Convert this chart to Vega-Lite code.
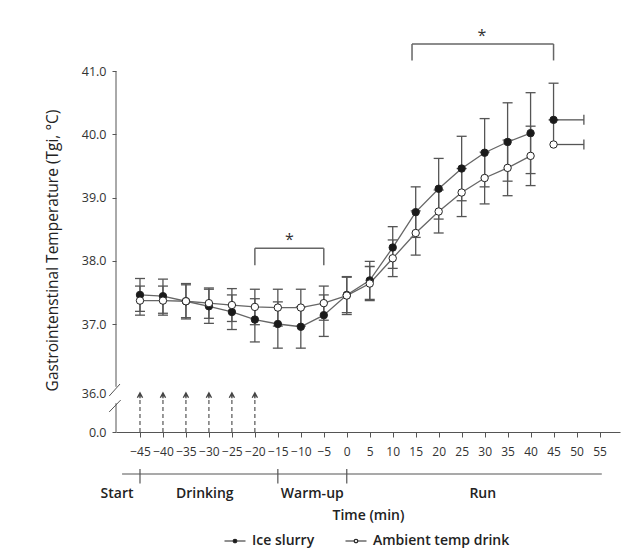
{
  "$schema": "https://vega.github.io/schema/vega-lite/v6.json",
  "width": 504,
  "height": 412,
  "autosize": {"type": "none"},
  "padding": {"left": 116, "top": 20, "right": 15, "bottom": 128},
  "background": "white",
  "config": {
    "view": {"stroke": null},
    "font": "Open Sans",
    "axis": {"labelFont": "Open Sans", "titleFont": "Open Sans", "labelColor": "#333", "titleColor": "#222", "grid": false},
    "axisX": {"labelOverlap": false, "labelSeparation": -20, "labelFlush": false, "labelBound": false, "labelFontSize": 12},
    "axisY": {"labelFontSize": 12.5}
  },
  "datasets": {
    "gi": [
      {"t": -45, "series": "Ice slurry", "mean": 37.46, "lo": 37.20, "hi": 37.72, "xhi": null},
      {"t": -40, "series": "Ice slurry", "mean": 37.44, "lo": 37.17, "hi": 37.71, "xhi": null},
      {"t": -35, "series": "Ice slurry", "mean": 37.36, "lo": 37.08, "hi": 37.64, "xhi": null},
      {"t": -30, "series": "Ice slurry", "mean": 37.28, "lo": 37.01, "hi": 37.55, "xhi": null},
      {"t": -25, "series": "Ice slurry", "mean": 37.19, "lo": 36.92, "hi": 37.46, "xhi": null},
      {"t": -20, "series": "Ice slurry", "mean": 37.07, "lo": 36.74, "hi": 37.40, "xhi": null},
      {"t": -15, "series": "Ice slurry", "mean": 37.00, "lo": 36.65, "hi": 37.35, "xhi": null},
      {"t": -10, "series": "Ice slurry", "mean": 36.96, "lo": 36.65, "hi": 37.27, "xhi": null},
      {"t": -5, "series": "Ice slurry", "mean": 37.14, "lo": 36.82, "hi": 37.46, "xhi": null},
      {"t": 0, "series": "Ice slurry", "mean": 37.46, "lo": 37.18, "hi": 37.74, "xhi": null},
      {"t": 5, "series": "Ice slurry", "mean": 37.69, "lo": 37.39, "hi": 37.99, "xhi": null},
      {"t": 10, "series": "Ice slurry", "mean": 38.21, "lo": 37.88, "hi": 38.54, "xhi": null},
      {"t": 15, "series": "Ice slurry", "mean": 38.77, "lo": 38.37, "hi": 39.17, "xhi": null},
      {"t": 20, "series": "Ice slurry", "mean": 39.14, "lo": 38.66, "hi": 39.62, "xhi": null},
      {"t": 25, "series": "Ice slurry", "mean": 39.46, "lo": 38.95, "hi": 39.97, "xhi": null},
      {"t": 30, "series": "Ice slurry", "mean": 39.71, "lo": 39.17, "hi": 40.25, "xhi": null},
      {"t": 35, "series": "Ice slurry", "mean": 39.88, "lo": 39.26, "hi": 40.50, "xhi": null},
      {"t": 40, "series": "Ice slurry", "mean": 40.02, "lo": 39.38, "hi": 40.66, "xhi": null},
      {"t": 45, "series": "Ice slurry", "mean": 40.23, "lo": null, "hi": 40.81, "xhi": 51.6},
      {"t": -45, "series": "Ambient temp drink", "mean": 37.37, "lo": 37.14, "hi": 37.60, "xhi": null},
      {"t": -40, "series": "Ambient temp drink", "mean": 37.37, "lo": 37.14, "hi": 37.60, "xhi": null},
      {"t": -35, "series": "Ambient temp drink", "mean": 37.36, "lo": 37.10, "hi": 37.62, "xhi": null},
      {"t": -30, "series": "Ambient temp drink", "mean": 37.33, "lo": 37.09, "hi": 37.57, "xhi": null},
      {"t": -25, "series": "Ambient temp drink", "mean": 37.30, "lo": 37.04, "hi": 37.56, "xhi": null},
      {"t": -20, "series": "Ambient temp drink", "mean": 37.27, "lo": 36.99, "hi": 37.55, "xhi": null},
      {"t": -15, "series": "Ambient temp drink", "mean": 37.26, "lo": 36.97, "hi": 37.55, "xhi": null},
      {"t": -10, "series": "Ambient temp drink", "mean": 37.26, "lo": 36.97, "hi": 37.55, "xhi": null},
      {"t": -5, "series": "Ambient temp drink", "mean": 37.33, "lo": 37.06, "hi": 37.60, "xhi": null},
      {"t": 0, "series": "Ambient temp drink", "mean": 37.45, "lo": 37.15, "hi": 37.75, "xhi": null},
      {"t": 5, "series": "Ambient temp drink", "mean": 37.64, "lo": 37.37, "hi": 37.91, "xhi": null},
      {"t": 10, "series": "Ambient temp drink", "mean": 38.04, "lo": 37.75, "hi": 38.33, "xhi": null},
      {"t": 15, "series": "Ambient temp drink", "mean": 38.44, "lo": 38.09, "hi": 38.79, "xhi": null},
      {"t": 20, "series": "Ambient temp drink", "mean": 38.78, "lo": 38.44, "hi": 39.12, "xhi": null},
      {"t": 25, "series": "Ambient temp drink", "mean": 39.08, "lo": 38.70, "hi": 39.46, "xhi": null},
      {"t": 30, "series": "Ambient temp drink", "mean": 39.31, "lo": 38.90, "hi": 39.72, "xhi": null},
      {"t": 35, "series": "Ambient temp drink", "mean": 39.47, "lo": 39.03, "hi": 39.91, "xhi": null},
      {"t": 40, "series": "Ambient temp drink", "mean": 39.66, "lo": 39.19, "hi": 40.13, "xhi": null},
      {"t": 45, "series": "Ambient temp drink", "mean": 39.84, "lo": null, "hi": 40.23, "xhi": 51.6}
    ],
    "axisSegments": [{"x": -50.22, "y1": 36.09, "y2": 41}, {"x": -50.22, "y1": 0, "y2": 26.6}],
    "slashes": [{"x1": -51.7, "y1": 33.2, "x2": -49.35, "y2": 36.13}, {"x1": -51.7, "y1": 18.5, "x2": -49.2, "y2": 29.5}],
    "drinks": [{"t": -45, "base": 0, "top": 33, "head": 33.8}, {"t": -40, "base": 0, "top": 33, "head": 33.8}, {"t": -35, "base": 0, "top": 33, "head": 33.8}, {"t": -30, "base": 0, "top": 33, "head": 33.8}, {"t": -25, "base": 0, "top": 33, "head": 33.8}, {"t": -20, "base": 0, "top": 33, "head": 33.8}],
    "brackets": [
      {"x1": -20, "x2": -5, "top": 38.2, "leg": 37.93, "sx": -12.5, "sy": 38.33, "label": "*"},
      {"x1": 14.2, "x2": 45, "top": 41.43, "leg": 41.17, "sx": 29.4, "sy": 41.55, "label": "*"}
    ],
    "timeline": [{"x1": -48.9, "x2": 55.5, "pos": 0}],
    "phaseTicks": [{"t": -45, "a": -0.25, "b": 0.47}, {"t": -15, "a": -0.25, "b": 0.47}, {"t": 0, "a": -0.25, "b": 0.47}],
    "phases": [{"x": -50.0, "pos": 1, "label": "Start"}, {"x": -30.9, "pos": 1, "label": "Drinking"}, {"x": -7.5, "pos": 1, "label": "Warm-up"}, {"x": 29.6, "pos": 1, "label": "Run"}]
  },
  "layer": [
    {
      "layer": [
        {
          "data": {"name": "axisSegments"},
          "mark": {"type": "rule", "color": "#555", "strokeWidth": 1},
          "encoding": {
            "x": {"field": "x", "type": "quantitative", "title": "Time (min)",
              "scale": {"domain": [-50.22, 59.46], "nice": false, "zero": false},
              "axis": {"values": [-45, -40, -35, -30, -25, -20, -15, -10, -5, 0, 5, 10, 15, 20, 25, 30, 35, 40, 45, 50, 55], "format": "d", "tickSize": 5, "tickColor": "#555", "domainColor": "#555", "labelPadding": 9, "labelFontSize": 12, "labelOverlap": false, "labelSeparation": -20, "labelFlush": false, "labelBound": false, "titleFontSize": 14, "titleFontWeight": 600, "titlePadding": 51}},
            "y": {"field": "y1", "type": "quantitative", "title": "Gastrointenstinal Temperature (Tgi, °C)",
              "scale": {"domain": [0, 36, 37, 41.81], "range": [412, 373, 304, 0], "nice": false, "zero": false},
              "axis": {"values": [0, 36, 37, 38, 39, 40, 41], "format": ".1f", "domain": false, "tickSize": 4, "tickColor": "#555", "tickOpacity": {"condition": {"test": "datum.value === 36", "value": 0}, "value": 1}, "labelPadding": 6, "titleFontSize": 15.5, "titleFontWeight": "normal", "titlePadding": 21, "titleY": 230}},
            "y2": {"field": "y2"}
          }
        },
        {
          "data": {"name": "slashes"},
          "mark": {"type": "rule", "color": "#555", "strokeWidth": 1},
          "encoding": {
            "x": {"field": "x1", "type": "quantitative", "title": "Time (min)", "axis": {"values": [-45, -40, -35, -30, -25, -20, -15, -10, -5, 0, 5, 10, 15, 20, 25, 30, 35, 40, 45, 50, 55], "format": "d", "tickSize": 5, "tickColor": "#555", "domainColor": "#555", "labelPadding": 9, "labelFontSize": 12, "labelOverlap": false, "labelSeparation": -20, "labelFlush": false, "labelBound": false, "titleFontSize": 14, "titleFontWeight": 600, "titlePadding": 51}},
            "x2": {"field": "x2"},
            "y": {"field": "y1", "type": "quantitative", "title": "Gastrointenstinal Temperature (Tgi, °C)"},
            "y2": {"field": "y2"}
          }
        },
        {
          "data": {"name": "drinks"},
          "mark": {"type": "rule", "color": "#555", "strokeWidth": 1.2, "strokeDash": [4, 3]},
          "encoding": {
            "x": {"field": "t", "type": "quantitative", "title": "Time (min)", "axis": {"values": [-45, -40, -35, -30, -25, -20, -15, -10, -5, 0, 5, 10, 15, 20, 25, 30, 35, 40, 45, 50, 55], "format": "d", "tickSize": 5, "tickColor": "#555", "domainColor": "#555", "labelPadding": 9, "labelFontSize": 12, "labelOverlap": false, "labelSeparation": -20, "labelFlush": false, "labelBound": false, "titleFontSize": 14, "titleFontWeight": 600, "titlePadding": 51}},
            "y": {"field": "base", "type": "quantitative", "title": "Gastrointenstinal Temperature (Tgi, °C)"},
            "y2": {"field": "top"}
          }
        },
        {
          "data": {"name": "drinks"},
          "mark": {"type": "point", "shape": "M-0.55,0.5L0,-0.5L0.55,0.5M0,-0.5L0,0.6", "filled": false, "size": 90, "color": "#444", "strokeWidth": 1.4, "opacity": 1},
          "encoding": {
            "x": {"field": "t", "type": "quantitative", "title": "Time (min)", "axis": {"values": [-45, -40, -35, -30, -25, -20, -15, -10, -5, 0, 5, 10, 15, 20, 25, 30, 35, 40, 45, 50, 55], "format": "d", "tickSize": 5, "tickColor": "#555", "domainColor": "#555", "labelPadding": 9, "labelFontSize": 12, "labelOverlap": false, "labelSeparation": -20, "labelFlush": false, "labelBound": false, "titleFontSize": 14, "titleFontWeight": 600, "titlePadding": 51}},
            "y": {"field": "head", "type": "quantitative", "title": "Gastrointenstinal Temperature (Tgi, °C)"}
          }
        },
        {
          "data": {"name": "brackets"},
          "mark": {"type": "rule", "color": "#666", "strokeWidth": 1.5},
          "encoding": {
            "x": {"field": "x1", "type": "quantitative", "title": "Time (min)", "axis": {"values": [-45, -40, -35, -30, -25, -20, -15, -10, -5, 0, 5, 10, 15, 20, 25, 30, 35, 40, 45, 50, 55], "format": "d", "tickSize": 5, "tickColor": "#555", "domainColor": "#555", "labelPadding": 9, "labelFontSize": 12, "labelOverlap": false, "labelSeparation": -20, "labelFlush": false, "labelBound": false, "titleFontSize": 14, "titleFontWeight": 600, "titlePadding": 51}},
            "x2": {"field": "x2"},
            "y": {"field": "top", "type": "quantitative", "title": "Gastrointenstinal Temperature (Tgi, °C)"}
          }
        },
        {
          "data": {"name": "brackets"},
          "mark": {"type": "rule", "color": "#666", "strokeWidth": 1.5},
          "encoding": {
            "x": {"field": "x1", "type": "quantitative", "title": "Time (min)", "axis": {"values": [-45, -40, -35, -30, -25, -20, -15, -10, -5, 0, 5, 10, 15, 20, 25, 30, 35, 40, 45, 50, 55], "format": "d", "tickSize": 5, "tickColor": "#555", "domainColor": "#555", "labelPadding": 9, "labelFontSize": 12, "labelOverlap": false, "labelSeparation": -20, "labelFlush": false, "labelBound": false, "titleFontSize": 14, "titleFontWeight": 600, "titlePadding": 51}},
            "y": {"field": "leg", "type": "quantitative", "title": "Gastrointenstinal Temperature (Tgi, °C)"},
            "y2": {"field": "top"}
          }
        },
        {
          "data": {"name": "brackets"},
          "mark": {"type": "rule", "color": "#666", "strokeWidth": 1.5},
          "encoding": {
            "x": {"field": "x2", "type": "quantitative", "title": "Time (min)", "axis": {"values": [-45, -40, -35, -30, -25, -20, -15, -10, -5, 0, 5, 10, 15, 20, 25, 30, 35, 40, 45, 50, 55], "format": "d", "tickSize": 5, "tickColor": "#555", "domainColor": "#555", "labelPadding": 9, "labelFontSize": 12, "labelOverlap": false, "labelSeparation": -20, "labelFlush": false, "labelBound": false, "titleFontSize": 14, "titleFontWeight": 600, "titlePadding": 51}},
            "y": {"field": "leg", "type": "quantitative", "title": "Gastrointenstinal Temperature (Tgi, °C)"},
            "y2": {"field": "top"}
          }
        },
        {
          "data": {"name": "brackets"},
          "mark": {"type": "text", "fontSize": 16, "color": "#333", "baseline": "middle", "align": "center"},
          "encoding": {
            "x": {"field": "sx", "type": "quantitative", "title": "Time (min)", "axis": {"values": [-45, -40, -35, -30, -25, -20, -15, -10, -5, 0, 5, 10, 15, 20, 25, 30, 35, 40, 45, 50, 55], "format": "d", "tickSize": 5, "tickColor": "#555", "domainColor": "#555", "labelPadding": 9, "labelFontSize": 12, "labelOverlap": false, "labelSeparation": -20, "labelFlush": false, "labelBound": false, "titleFontSize": 14, "titleFontWeight": 600, "titlePadding": 51}},
            "y": {"field": "sy", "type": "quantitative", "title": "Gastrointenstinal Temperature (Tgi, °C)"},
            "text": {"field": "label"}
          }
        },
        {
          "data": {"name": "gi"},
          "mark": {"type": "rule", "color": "#555", "strokeWidth": 1.3},
          "encoding": {
            "x": {"field": "t", "type": "quantitative", "title": "Time (min)", "axis": {"values": [-45, -40, -35, -30, -25, -20, -15, -10, -5, 0, 5, 10, 15, 20, 25, 30, 35, 40, 45, 50, 55], "format": "d", "tickSize": 5, "tickColor": "#555", "domainColor": "#555", "labelPadding": 9, "labelFontSize": 12, "labelOverlap": false, "labelSeparation": -20, "labelFlush": false, "labelBound": false, "titleFontSize": 14, "titleFontWeight": 600, "titlePadding": 51}},
            "y": {"field": "mean", "type": "quantitative", "title": "Gastrointenstinal Temperature (Tgi, °C)"},
            "y2": {"field": "hi"}
          }
        },
        {
          "data": {"name": "gi"},
          "mark": {"type": "rule", "color": "#555", "strokeWidth": 1.3},
          "encoding": {
            "x": {"field": "t", "type": "quantitative", "title": "Time (min)", "axis": {"values": [-45, -40, -35, -30, -25, -20, -15, -10, -5, 0, 5, 10, 15, 20, 25, 30, 35, 40, 45, 50, 55], "format": "d", "tickSize": 5, "tickColor": "#555", "domainColor": "#555", "labelPadding": 9, "labelFontSize": 12, "labelOverlap": false, "labelSeparation": -20, "labelFlush": false, "labelBound": false, "titleFontSize": 14, "titleFontWeight": 600, "titlePadding": 51}},
            "y": {"field": "lo", "type": "quantitative", "title": "Gastrointenstinal Temperature (Tgi, °C)"},
            "y2": {"field": "mean"}
          }
        },
        {
          "data": {"name": "gi"},
          "mark": {"type": "tick", "orient": "horizontal", "color": "#555", "size": 10, "thickness": 1.3, "opacity": 1},
          "encoding": {
            "x": {"field": "t", "type": "quantitative", "title": "Time (min)", "axis": {"values": [-45, -40, -35, -30, -25, -20, -15, -10, -5, 0, 5, 10, 15, 20, 25, 30, 35, 40, 45, 50, 55], "format": "d", "tickSize": 5, "tickColor": "#555", "domainColor": "#555", "labelPadding": 9, "labelFontSize": 12, "labelOverlap": false, "labelSeparation": -20, "labelFlush": false, "labelBound": false, "titleFontSize": 14, "titleFontWeight": 600, "titlePadding": 51}},
            "y": {"field": "hi", "type": "quantitative", "title": "Gastrointenstinal Temperature (Tgi, °C)"}
          }
        },
        {
          "data": {"name": "gi"},
          "mark": {"type": "tick", "orient": "horizontal", "color": "#555", "size": 10, "thickness": 1.3, "opacity": 1},
          "encoding": {
            "x": {"field": "t", "type": "quantitative", "title": "Time (min)", "axis": {"values": [-45, -40, -35, -30, -25, -20, -15, -10, -5, 0, 5, 10, 15, 20, 25, 30, 35, 40, 45, 50, 55], "format": "d", "tickSize": 5, "tickColor": "#555", "domainColor": "#555", "labelPadding": 9, "labelFontSize": 12, "labelOverlap": false, "labelSeparation": -20, "labelFlush": false, "labelBound": false, "titleFontSize": 14, "titleFontWeight": 600, "titlePadding": 51}},
            "y": {"field": "lo", "type": "quantitative", "title": "Gastrointenstinal Temperature (Tgi, °C)"}
          }
        },
        {
          "data": {"name": "gi"},
          "mark": {"type": "rule", "color": "#555", "strokeWidth": 1.3},
          "encoding": {
            "x": {"field": "t", "type": "quantitative", "title": "Time (min)", "axis": {"values": [-45, -40, -35, -30, -25, -20, -15, -10, -5, 0, 5, 10, 15, 20, 25, 30, 35, 40, 45, 50, 55], "format": "d", "tickSize": 5, "tickColor": "#555", "domainColor": "#555", "labelPadding": 9, "labelFontSize": 12, "labelOverlap": false, "labelSeparation": -20, "labelFlush": false, "labelBound": false, "titleFontSize": 14, "titleFontWeight": 600, "titlePadding": 51}},
            "x2": {"field": "xhi"},
            "y": {"field": "mean", "type": "quantitative", "title": "Gastrointenstinal Temperature (Tgi, °C)"}
          }
        },
        {
          "data": {"name": "gi"},
          "mark": {"type": "tick", "orient": "vertical", "color": "#555", "size": 10, "thickness": 1.3, "opacity": 1},
          "encoding": {
            "x": {"field": "xhi", "type": "quantitative", "title": "Time (min)", "axis": {"values": [-45, -40, -35, -30, -25, -20, -15, -10, -5, 0, 5, 10, 15, 20, 25, 30, 35, 40, 45, 50, 55], "format": "d", "tickSize": 5, "tickColor": "#555", "domainColor": "#555", "labelPadding": 9, "labelFontSize": 12, "labelOverlap": false, "labelSeparation": -20, "labelFlush": false, "labelBound": false, "titleFontSize": 14, "titleFontWeight": 600, "titlePadding": 51}},
            "y": {"field": "mean", "type": "quantitative", "title": "Gastrointenstinal Temperature (Tgi, °C)"}
          }
        },
        {
          "data": {"name": "gi"},
          "transform": [{"filter": "datum.t <= 40"}],
          "mark": {"type": "line", "color": "#666", "strokeWidth": 1.3},
          "encoding": {
            "x": {"field": "t", "type": "quantitative", "title": "Time (min)", "axis": {"values": [-45, -40, -35, -30, -25, -20, -15, -10, -5, 0, 5, 10, 15, 20, 25, 30, 35, 40, 45, 50, 55], "format": "d", "tickSize": 5, "tickColor": "#555", "domainColor": "#555", "labelPadding": 9, "labelFontSize": 12, "labelOverlap": false, "labelSeparation": -20, "labelFlush": false, "labelBound": false, "titleFontSize": 14, "titleFontWeight": 600, "titlePadding": 51}},
            "y": {"field": "mean", "type": "quantitative", "title": "Gastrointenstinal Temperature (Tgi, °C)"},
            "detail": {"field": "series"}
          }
        },
        {
          "data": {"name": "gi"},
          "mark": {"type": "circle", "size": 55, "stroke": "#222", "strokeWidth": 1, "opacity": 1},
          "encoding": {
            "x": {"field": "t", "type": "quantitative", "title": "Time (min)", "axis": {"values": [-45, -40, -35, -30, -25, -20, -15, -10, -5, 0, 5, 10, 15, 20, 25, 30, 35, 40, 45, 50, 55], "format": "d", "tickSize": 5, "tickColor": "#555", "domainColor": "#555", "labelPadding": 9, "labelFontSize": 12, "labelOverlap": false, "labelSeparation": -20, "labelFlush": false, "labelBound": false, "titleFontSize": 14, "titleFontWeight": 600, "titlePadding": 51}},
            "y": {"field": "mean", "type": "quantitative", "title": "Gastrointenstinal Temperature (Tgi, °C)"},
            "fill": {"field": "series", "type": "nominal",
              "scale": {"domain": ["Ice slurry", "Ambient temp drink"], "range": ["#1a1a1a", "#ffffff"]},
              "legend": {"title": null, "orient": "none", "legendX": 112, "legendY": 514, "direction": "horizontal",
                "symbolType": "M-2.1,0H-0.35M0.35,0H2.1M0.35,0A0.35,0.35,0,1,1,-0.35,0A0.35,0.35,0,1,1,0.35,0Z",
                "symbolSize": 100, "symbolStrokeColor": "#222", "symbolStrokeWidth": 1.2, "symbolOpacity": 1,
                "labelFontSize": 14, "labelFont": "Open Sans", "labelFontWeight": 600, "labelColor": "#222",
                "columnPadding": 28, "labelOffset": 10}}
          }
        }
      ]
    },
    {
      "layer": [
        {
          "data": {"name": "timeline"},
          "mark": {"type": "rule", "color": "#555", "strokeWidth": 1.2},
          "encoding": {
            "x": {"field": "x1", "type": "quantitative", "title": "Time (min)", "axis": {"values": [-45, -40, -35, -30, -25, -20, -15, -10, -5, 0, 5, 10, 15, 20, 25, 30, 35, 40, 45, 50, 55], "format": "d", "tickSize": 5, "tickColor": "#555", "domainColor": "#555", "labelPadding": 9, "labelFontSize": 12, "labelOverlap": false, "labelSeparation": -20, "labelFlush": false, "labelBound": false, "titleFontSize": 14, "titleFontWeight": 600, "titlePadding": 51}},
            "x2": {"field": "x2"},
            "y": {"field": "pos", "type": "quantitative", "axis": null, "scale": {"domain": [0, 1], "range": [454, 474], "nice": false, "zero": false}}
          }
        },
        {
          "data": {"name": "phaseTicks"},
          "mark": {"type": "rule", "color": "#555", "strokeWidth": 1.2},
          "encoding": {
            "x": {"field": "t", "type": "quantitative", "title": "Time (min)", "axis": {"values": [-45, -40, -35, -30, -25, -20, -15, -10, -5, 0, 5, 10, 15, 20, 25, 30, 35, 40, 45, 50, 55], "format": "d", "tickSize": 5, "tickColor": "#555", "domainColor": "#555", "labelPadding": 9, "labelFontSize": 12, "labelOverlap": false, "labelSeparation": -20, "labelFlush": false, "labelBound": false, "titleFontSize": 14, "titleFontWeight": 600, "titlePadding": 51}},
            "y": {"field": "a", "type": "quantitative", "axis": null},
            "y2": {"field": "b"}
          }
        },
        {
          "data": {"name": "phases"},
          "mark": {"type": "text", "fontSize": 14, "fontWeight": 600, "color": "#222", "baseline": "middle", "align": "center", "font": "Open Sans"},
          "encoding": {
            "x": {"field": "x", "type": "quantitative", "title": "Time (min)", "axis": {"values": [-45, -40, -35, -30, -25, -20, -15, -10, -5, 0, 5, 10, 15, 20, 25, 30, 35, 40, 45, 50, 55], "format": "d", "tickSize": 5, "tickColor": "#555", "domainColor": "#555", "labelPadding": 9, "labelFontSize": 12, "labelOverlap": false, "labelSeparation": -20, "labelFlush": false, "labelBound": false, "titleFontSize": 14, "titleFontWeight": 600, "titlePadding": 51}},
            "y": {"field": "pos", "type": "quantitative", "axis": null},
            "text": {"field": "label"}
          }
        }
      ]
    }
  ],
  "resolve": {"scale": {"y": "independent"}}
}
